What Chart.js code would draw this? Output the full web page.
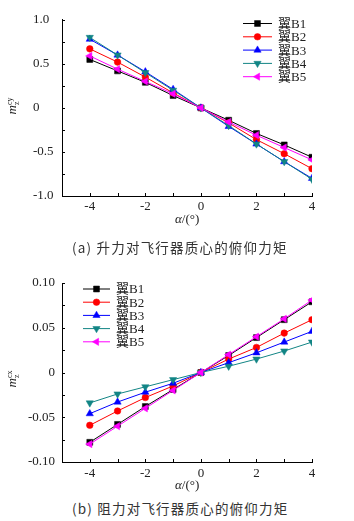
<!DOCTYPE html>
<html>
<head>
<meta charset="utf-8">
<script src="https://cdn.jsdelivr.net/npm/chart.js@4/dist/chart.umd.min.js"></script>
<style>
  body { margin: 0; background: #fff; width: 354px; height: 521px; position: relative; overflow: hidden; }
  .box { position: absolute; left: 0; width: 354px; height: 230px; }
  .txt { position: absolute; color: #222; white-space: nowrap; }
  .serif { font-family: "Liberation Serif", "DejaVu Serif", serif; }
  .cap { font-family: "Noto Sans CJK SC", sans-serif; font-size: 13.5px; letter-spacing: 1.2px; color: #333; }
  .ytitle { transform: rotate(-90deg); transform-origin: center; font-size: 13px; }
  .ytitle .st { display: inline-block; vertical-align: middle; line-height: 7px; font-size: 8px; text-align: left; }
</style>
</head>
<body>
<div class="box" style="top:0"><canvas id="liftChart"></canvas></div>
<div class="box" style="top:260px"><canvas id="dragChart"></canvas></div>

<div class="txt serif ytitle" style="left:4px; top:98px;"><i>m</i><span class="st">cy<br>z</span></div>
<div class="txt serif ytitle" style="left:4px; top:371px;"><i>m</i><span class="st">cx<br>z</span></div>
<div class="txt serif" style="left:175px; top:211px; font-size:13px;"><i>α</i>/(°)</div>
<div class="txt serif" style="left:175px; top:477px; font-size:13px;"><i>α</i>/(°)</div>
<div class="txt cap" style="left:72px; top:237px;">(a) 升力对飞行器质心的俯仰力矩</div>
<div class="txt cap" style="left:72px; top:498px;">(b) 阻力对飞行器质心的俯仰力矩</div>

<script>
// angle of attack (deg)
const alpha = [-4, -3, -2, -1, 0, 1, 2, 3, 4];
const seriesNames = ['翼B1', '翼B2', '翼B3', '翼B4', '翼B5'];

// (a) pitching moment from lift
const liftB1 = [0.55, 0.42, 0.29, 0.14, 0, -0.14, -0.29, -0.42, -0.56];
const liftB2 = [0.67, 0.52, 0.35, 0.17, 0, -0.17, -0.36, -0.52, -0.69];
const liftB3 = [0.78, 0.60, 0.41, 0.21, 0, -0.21, -0.41, -0.61, -0.80];
const liftB4 = [0.80, 0.60, 0.40, 0.20, 0, -0.20, -0.41, -0.61, -0.81];
const liftB5 = [0.59, 0.44, 0.30, 0.16, 0, -0.16, -0.31, -0.45, -0.59];

// (b) pitching moment from drag
const dragB1 = [-0.078, -0.058, -0.038, -0.019, 0, 0.019, 0.039, 0.059, 0.079];
const dragB2 = [-0.059, -0.043, -0.028, -0.015, 0, 0.015, 0.028, 0.044, 0.059];
const dragB3 = [-0.046, -0.033, -0.022, -0.012, 0, 0.011, 0.022, 0.034, 0.046];
const dragB4 = [-0.034, -0.024, -0.016, -0.008, 0, 0.007, 0.015, 0.024, 0.034];
const dragB5 = [-0.080, -0.060, -0.040, -0.020, 0, 0.020, 0.040, 0.060, 0.081];

// tick labels
const xTickValues = [-4, -2, 0, 2, 4];
const xTickLabels = ['-4', '-2', '0', '2', '4'];
const liftYTickValues = [1, 0.5, 0, -0.5, -1];
const liftYTickLabels = ['1.0', '0.5', '0', '-0.5', '-1.0'];
const dragYTickValues = [0.1, 0.05, 0, -0.05, -0.1];
const dragYTickLabels = ['0.10', '0.05', '0', '-0.05', '-0.10'];

const styles = [
  { color: '#000000', pointStyle: 'rect', rotation: 0, radius: 4.2 },
  { color: '#ff0000', pointStyle: 'circle', rotation: 0, radius: 3.3 },
  { color: '#0000ff', pointStyle: 'triangle', rotation: 0, radius: 4.2 },
  { color: '#128585', pointStyle: 'triangle', rotation: 180, radius: 4.2 },
  { color: '#ff00ff', pointStyle: 'triangle', rotation: 270, radius: 4.2 }
];

const SERIF = '"Liberation Serif", "Noto Sans CJK SC", serif';

function lookup(values, labels) {
  return v => {
    const i = values.findIndex(t => Math.abs(t - v) < 1e-9);
    return i < 0 ? '' : labels[i];
  };
}

function makeDatasets(arrays) {
  return arrays.map((arr, i) => ({
    label: seriesNames[i],
    data: alpha.map((a, j) => ({ x: a, y: arr[j] })),
    order: arrays.length - i, // later series drawn on top
    borderColor: styles[i].color,
    backgroundColor: styles[i].color,
    pointBackgroundColor: styles[i].color,
    pointBorderColor: styles[i].color,
    borderWidth: 1,
    pointStyle: styles[i].pointStyle,
    pointRotation: styles[i].rotation,
    pointRadius: styles[i].radius,
    pointBorderWidth: 0.5,
    tension: 0
  }));
}

// small ticks pointing into the plot
const inwardTicks = {
  id: 'inwardTicks',
  afterDraw(chart) {
    const { ctx, chartArea, scales: { x, y } } = chart;
    ctx.save();
    ctx.strokeStyle = '#000';
    ctx.lineWidth = 1;
    ctx.beginPath();
    y.ticks.forEach(t => {
      const py = Math.round(y.getPixelForValue(t.value)) + 0.5;
      ctx.moveTo(chartArea.left, py);
      ctx.lineTo(chartArea.left + 3, py);
    });
    x.ticks.forEach(t => {
      if (t.value === x.min) return;
      const px = Math.round(x.getPixelForValue(t.value)) + 0.5;
      ctx.moveTo(px, chartArea.bottom);
      ctx.lineTo(px, chartArea.bottom - 3);
    });
    ctx.stroke();
    ctx.restore();
  }
};

// legend with line + marker, drawn inside the plot
const insetLegend = {
  id: 'insetLegend',
  afterDatasetsDraw(chart, args, opts) {
    const ctx = chart.ctx;
    ctx.save();
    chart.data.datasets.forEach((ds, i) => {
      const y = opts.y + i * opts.gap;
      ctx.strokeStyle = ds.borderColor;
      ctx.lineWidth = 1;
      ctx.beginPath();
      ctx.moveTo(opts.x, y);
      ctx.lineTo(opts.x + opts.len, y);
      ctx.stroke();
      ctx.fillStyle = ds.pointBackgroundColor;
      ctx.lineWidth = 0.5;
      Chart.helpers.drawPoint(ctx, {
        pointStyle: ds.pointStyle,
        rotation: ds.pointRotation,
        radius: ds.pointRadius,
        borderWidth: 0.5
      }, opts.x + opts.len / 2, y);
      ctx.fillStyle = '#222';
      ctx.font = '13px ' + SERIF;
      ctx.textBaseline = 'middle';
      ctx.textAlign = 'left';
      ctx.fillText(ds.label, opts.x + opts.len + 6, y + 1);
    });
    ctx.restore();
  }
};

function createChart(id, arrays, cfg) {
  const ctx = document.getElementById(id).getContext('2d');
  return new Chart(ctx, {
    type: 'line',
    data: { datasets: makeDatasets(arrays) },
    plugins: [inwardTicks, insetLegend],
    options: {
      responsive: true,
      maintainAspectRatio: false,
      animation: false,
      layout: { padding: { left: cfg.padLeft, top: cfg.padTop, right: 42, bottom: 0 } },
      scales: {
        x: {
          type: 'linear',
          min: -5,
          max: 4,
          afterFit: s => { s.height = cfg.xHeight; },
          afterBuildTicks: s => { s.ticks = [-5].concat(alpha).map(v => ({ value: v })); },
          grid: { display: false, drawTicks: false },
          border: { display: true, color: '#000', width: 1 },
          ticks: {
            autoSkip: false,
            maxRotation: 0,
            padding: cfg.xPad,
            color: '#222',
            font: { family: SERIF, size: 13 },
            callback: lookup(xTickValues, xTickLabels)
          }
        },
        y: {
          min: cfg.yMin,
          max: cfg.yMax,
          afterFit: s => { s.width = cfg.yWidth; },
          grid: { display: false, drawTicks: false },
          border: { display: true, color: '#000', width: 1 },
          ticks: {
            stepSize: cfg.yStep,
            autoSkip: false,
            crossAlign: cfg.crossAlign,
            padding: cfg.yPad,
            color: '#222',
            font: { family: SERIF, size: 13 },
            callback: lookup(cfg.yValues, cfg.yLabels)
          }
        }
      },
      plugins: {
        legend: { display: false },
        tooltip: { enabled: false },
        insetLegend: cfg.legend
      }
    }
  });
}

createChart('liftChart', [liftB1, liftB2, liftB3, liftB4, liftB5], {
  padLeft: 33, padTop: 17, yWidth: 29, xHeight: 34, xPad: 3, yPad: 12, crossAlign: 'far',
  yMin: -1, yMax: 1, yStep: 0.25,
  yValues: liftYTickValues, yLabels: liftYTickLabels,
  legend: { x: 243, y: 23.5, gap: 13.3, len: 29 }
});

createChart('dragChart', [dragB1, dragB2, dragB3, dragB4, dragB5], {
  padLeft: 0, padTop: 23, yWidth: 62, xHeight: 28, xPad: 4, yPad: 7, crossAlign: 'near',
  yMin: -0.1, yMax: 0.1, yStep: 0.025,
  yValues: dragYTickValues, yLabels: dragYTickLabels,
  legend: { x: 83, y: 29, gap: 13.2, len: 27 }
});
</script>
</body>
</html>
